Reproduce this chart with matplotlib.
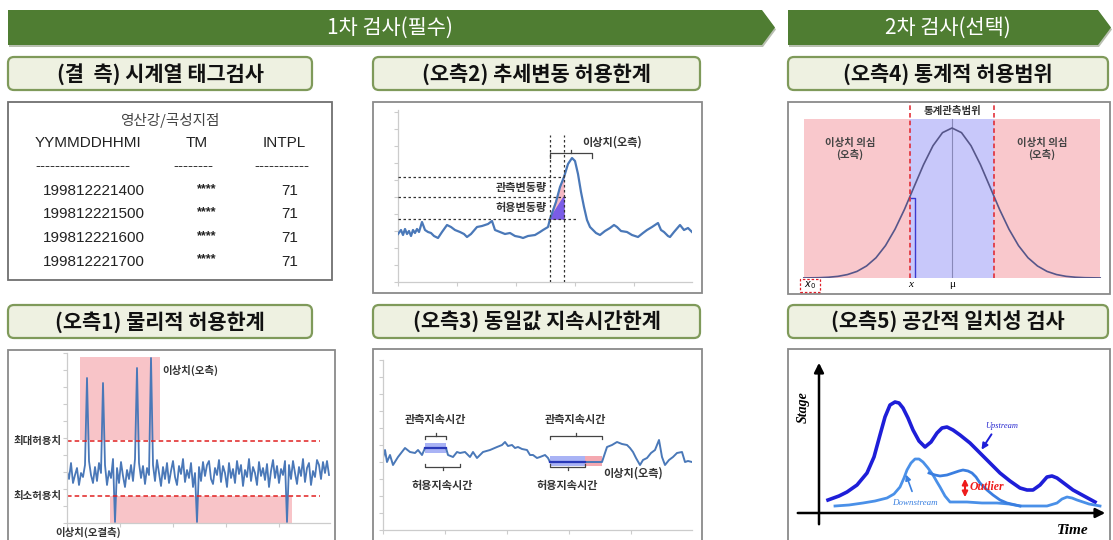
import matplotlib.pyplot as plt
import numpy as np
from matplotlib.patches import Polygon, FancyBboxPatch, Rectangle

KR = ['Noto Sans CJK KR', 'DejaVu Sans']
SERIF = ['Liberation Serif', 'DejaVu Serif']
plt.rcParams['font.family'] = KR

W, H = 1113, 540

# ---------------- data ----------------
banner_labels = ['1차 검사(필수)', '2차 검사(선택)']
box_titles = ['(결  측) 시계열 태그검사', '(오측2) 추세변동 허용한계', '(오측4) 통계적 허용범위',
              '(오측1) 물리적 허용한계', '(오측3) 동일값 지속시간한계', '(오측5) 공간적 일치성 검사']

table_station = '영산강/곡성지점'
table_cols = ['YYMMDDHHMI', 'TM', 'INTPL']
table_times = ['199812221400', '199812221500', '199812221600', '199812221700']
table_tm = ['****', '****', '****', '****']
table_intpl = [71, 71, 71, 71]

# (오측2) trend series
trend_t = [0, 3, 5, 7, 9, 11, 13, 15, 17, 19, 21, 24, 27, 30, 33, 36, 40, 44, 49, 53,
           57, 62, 66, 69, 73, 79, 84, 90, 94, 97, 102, 107, 112, 117, 122, 125, 130, 137, 142, 145,
           150, 152, 158, 162, 166, 170, 174, 177, 180, 183, 186, 189, 192, 195, 198, 202, 207, 212, 216, 219,
           223, 229, 234, 240, 245, 249, 254, 260, 263, 266, 270, 272, 276, 282, 286, 290, 294]
trend_v = [48, 52, 47, 53, 48, 51, 46, 52, 49, 53, 50, 60, 52, 50, 49, 46, 44, 50, 57, 55,
           52, 50, 48, 45, 48, 55, 56, 58, 61, 52, 50, 48, 49, 46, 45, 44, 46, 47, 50, 52,
           55, 63, 80, 95, 105, 118, 124, 121, 108, 90, 75, 62, 55, 52, 49, 47, 51, 54, 57, 55,
           51, 50, 47, 45, 49, 52, 55, 59, 52, 50, 46, 45, 50, 57, 52, 54, 50]
trend_window = [152, 166]
trend_levels = [63, 85, 105]   # start, allowed change, observed change

# (오측1) physical limit series
phys_v = [52, 44, 60, 40, 48, 55, 38, 50, 46, 58,
          145, 62, 48, 40, 56, 42, 60, 50,
          140, 58, 38, 52, 45, 64,
          1, 55, 40, 61, 47, 36, 53, 44, 58, 42, 64,
          155, 60, 45, 57, 39, 55, 48,
          165, 58, 42, 63, 50, 37, 56, 44, 60, 40, 52, 62, 46, 38, 57, 49, 64, 41, 53, 45, 60, 36, 50,
          1, 56, 42, 61, 47, 58, 62, 44, 39, 55, 48, 63, 41, 57, 50, 36, 60, 45, 54, 40, 62,
          49, 58, 37, 53, 46, 64, 42, 56, 50, 38, 61, 47, 55, 43, 59, 36, 52, 63, 45, 57, 40, 54, 48, 62,
          1, 58, 44, 62, 50, 39, 56, 47, 64, 41, 55, 60, 38, 52, 46, 63, 58, 44, 61, 50, 62, 48]
phys_max, phys_min = 82, 27

# (오측3) persistence series
pers_t = [0, 2, 4, 7, 10, 15, 22, 27, 32, 35, 39, 42, 63, 65, 70, 74, 77, 82, 87, 90,
          94, 100, 107, 114, 119, 122, 125, 129, 132, 135, 139, 144, 147, 150, 154, 157, 162, 165, 167, 202,
          219, 224, 229, 234, 239, 244, 247, 250, 253, 257, 260, 264, 268, 272, 276, 279, 282, 286, 290, 294,
          299, 302, 305, 309]
pers_v = [72, 80, 68, 75, 65, 73, 82, 78, 77, 80, 75, 82, 82, 75, 73, 78, 77, 78, 73, 78,
          72, 78, 80, 83, 85, 88, 84, 85, 82, 83, 81, 80, 75, 75, 72, 73, 75, 72, 68, 68,
          68, 83, 85, 88, 86, 85, 82, 78, 72, 65, 70, 72, 77, 80, 90, 73, 65, 70, 73, 77,
          78, 68, 69, 68]
pers_obs = [(42, 63), (167, 219)]     # observed duration
pers_allow = [(42, 77), (167, 202)]   # allowed duration

# (오측4) normal curve (in sigma units)
norm_z = [0, 0.25, 0.5, 0.75, 1.0, 1.25, 1.5, 1.75, 2.0, 2.25, 2.5, 2.75, 3.0, 3.25, 3.5, 3.75, 3.9]
norm_h = [1.0, 0.969, 0.882, 0.755, 0.607, 0.458, 0.325, 0.216, 0.135, 0.080, 0.044, 0.023, 0.011,
          0.005, 0.002, 0.001, 0.0005]
norm_limit = 1.1

# (오측5) upstream / downstream
up_t = [9, 20, 28, 38, 48, 55, 61, 66, 71, 76, 80, 84, 89, 94, 100, 106, 112, 118, 123, 128,
        134, 141, 151, 161, 171, 181, 191, 201, 208, 214, 221, 228, 233, 238, 246, 254, 265, 276]
up_v = [13, 17, 21, 28, 40, 56, 78, 96, 108, 111, 110, 105, 95, 83, 72, 66, 71, 80, 85, 86,
        83, 78, 70, 60, 50, 40, 32, 25, 23, 23, 28, 36, 37, 35, 29, 23, 17, 11]
down_t = [16, 30, 44, 56, 68, 75, 81, 85, 88, 92, 96, 100, 104, 109, 114, 118, 121, 126, 131, 140,
          148, 163, 178, 190, 201, 215, 228, 238, 243, 248, 253, 258, 270, 281]
down_v = [7, 8, 10, 12, 15, 19, 26, 35, 43, 50, 54, 54, 51, 45, 38, 31, 26, 17, 11, 11,
          11, 10, 10, 9, 7, 7, 7, 10, 14, 16, 15, 13, 9, 7]
branch_t = [110, 116, 121, 128, 134, 140, 144, 149, 153, 157, 161, 168, 174, 181, 188, 201]
branch_v = [40, 38, 37, 38, 40, 42, 43, 42, 40, 36, 30, 23, 18, 13, 10, 7]
outlier_t, outlier_lo, outlier_hi = 146, 13, 37

# ---------------- figure ----------------
fig = plt.figure(figsize=(W / 100, H / 100), dpi=100)
base = fig.add_axes([0, 0, 1, 1])
base.set_xlim(0, W)
base.set_ylim(H, 0)
base.axis('off')

GREEN = '#4f7d32'
for (x0, x1), lab in zip([(8, 762), (788, 1098)], banner_labels):
    shadow = Polygon([(x0 + 1, 12), (x1 + 1, 12), (x1 + 14, 29.5), (x1 + 1, 47), (x0 + 1, 47)],
                     closed=True, fc='#b8bfb0', ec='none')
    base.add_patch(shadow)
    base.add_patch(Polygon([(x0, 10), (x1, 10), (x1 + 13, 27.5), (x1, 45), (x0, 45)],
                           closed=True, fc=GREEN, ec='none'))
    base.text((x0 + x1) / 2 + 5, 28, lab, color='white', fontsize=15, style='italic',
              ha='center', va='center')

box_x = [(8, 312), (373, 700), (788, 1108)]
for i, title in enumerate(box_titles):
    x0, x1 = box_x[i % 3]
    y0 = 57 if i < 3 else 305
    base.add_patch(FancyBboxPatch((x0, y0), x1 - x0, 33, boxstyle='round,pad=0,rounding_size=6',
                                  fc='#eef1e1', ec='#7f9a5a', lw=1.6))
    base.text((x0 + x1) / 2, y0 + 17, title, fontsize=15, fontweight='bold',
              ha='center', va='center', color='#111111')

# panel frames
for x0, y0, x1, y1, ec in [(8, 102, 332, 280, '#707070'), (373, 102, 702, 293, '#8a8a8a'),
                           (788, 102, 1110, 294, '#8a8a8a'), (8, 350, 335, 548, '#8a8a8a'),
                           (373, 349, 702, 548, '#8a8a8a'), (788, 349, 1110, 548, '#8a8a8a')]:
    base.add_patch(Rectangle((x0, y0), x1 - x0, y1 - y0, fc='white', ec=ec, lw=1.3))

# ---- table panel ----
SANS = ['Liberation Sans', 'DejaVu Sans']
base.text(170, 120, table_station, fontsize=10.5, color='#444444', ha='center', va='center')
for x, lab in zip([35, 197, 284], table_cols):
    base.text(x, 143, lab, fontsize=11, family=SANS, color='#222222',
              ha='left' if x == 35 else 'center', va='center')
for x, dash, ha in [(35, '-' * 19, 'left'), (193, '-' * 8, 'center'), (282, '-' * 11, 'center')]:
    base.text(x, 166, dash, fontsize=11, family=SANS, color='#333333', ha=ha, va='center')
for k, (tm, tv, iv) in enumerate(zip(table_times, table_tm, table_intpl)):
    y = 191 + k * 23.5
    base.text(43, y, tm, fontsize=11, family=SANS, color='#222222', ha='left', va='center')
    base.text(207, y - 2, tv, fontsize=9, family=SANS, fontweight='bold', color='#222222',
              ha='center', va='center')
    base.text(290, y, str(iv), fontsize=11, family=SANS, color='#222222', ha='center', va='center')


def panel_axes(x0, y0, x1, y1):
    a = fig.add_axes([x0 / W, 1 - y1 / H, (x1 - x0) / W, (y1 - y0) / H])
    a.patch.set_alpha(0)
    return a


def gray_axes(a, xticks, yticks):
    for s in ['top', 'right']:
        a.spines[s].set_visible(False)
    for s in ['left', 'bottom']:
        a.spines[s].set_color('#cccccc')
        a.spines[s].set_linewidth(0.9)
    a.set_xticks(xticks)
    a.set_yticks(yticks)
    a.tick_params(length=3, color='#cccccc', labelbottom=False, labelleft=False)


LINE = '#4a78b8'

# ---- (오측2) trend ----
ax2 = panel_axes(398, 110, 692, 282)
ax2.set_xlim(0, 294)
ax2.set_ylim(0, 172)
gray_axes(ax2, np.arange(0, 295, 59), np.arange(0, 173, 17))
ta, tb = trend_window
lo, mid, hi = trend_levels
ax2.fill([ta, tb, tb], [lo, hi, lo], color='#f5b8c4', zorder=1)
ax2.fill([ta, tb, tb], [lo, mid, lo], color='#7a5ce6', zorder=2)
ax2.plot(trend_t, trend_v, color=LINE, lw=1.6, zorder=3)
dash_kw = dict(color='#333333', lw=0.9, ls=(0, (2, 2)), zorder=4)
ax2.plot([0, tb], [hi, hi], **dash_kw)
ax2.plot([0, tb + 4], [mid, mid], **dash_kw)
ax2.plot([0, tb + 14], [lo, lo], **dash_kw)
ax2.plot([ta, ta], [0, 147], **dash_kw)
ax2.plot([tb, tb], [0, 147], **dash_kw)
ax2.plot([ta, ta, 194, 194], [124, 129, 129, 124], color='#444444', lw=0.9)
ax2.plot([173, 173], [129, 132], color='#444444', lw=0.9)
ax2.text(214, 140, '이상치(오측)', fontsize=8, fontweight='bold', color='#333333', ha='center', va='center')
ax2.text(149, 95, '관측변동량', fontsize=8, fontweight='bold', color='#333333', ha='right', va='center')
ax2.text(149, 74, '허용변동량', fontsize=8, fontweight='bold', color='#333333', ha='right', va='center')

# ---- (오측4) normal ----
ax3 = panel_axes(800, 102, 1104, 278)
ax3.set_xlim(-4, 4)
ax3.set_ylim(0, 176 / 150)
ax3.axis('off')
ax3.add_patch(Rectangle((-3.9, 0), 7.8, 1.06, fc='#f9c8cc', ec='none'))
ax3.add_patch(Rectangle((-norm_limit, 0), 2 * norm_limit, 1.06, fc='#c8c8fa', ec='none'))
nz = [-z for z in norm_z[::-1]] + norm_z[1:]
nh = norm_h[::-1] + norm_h[1:]
ax3.plot([0, 0], [0, 1.06], color='#8888b8', lw=0.8)
ax3.plot(nz, nh, color='#56568a', lw=1.2)
for xl in [-norm_limit, norm_limit]:
    ax3.plot([xl, xl], [0, 176 / 150], color='#e0202a', lw=1.1, ls=(0, (3, 2)))
ax3.plot([-1.08, -0.97, -0.97], [0.535, 0.535, 0], color='#3a3ad0', lw=1)
ax3.text(0, 1.115, '통계관측범위', fontsize=7.5, fontweight='bold', color='#333333', ha='center', va='center')
for xc in [-2.68, 2.37]:
    ax3.text(xc, 0.86, '이상치 의심\n(오측)', fontsize=7.5, fontweight='bold', color='#444444',
             ha='center', va='center', linespacing=1.1)
ax3.text(-norm_limit, -0.045, 'x', fontsize=8, family=SERIF, style='italic', ha='center', va='center', clip_on=False)
ax3.text(0, -0.045, 'μ', fontsize=8, family=SERIF, ha='center', va='center', clip_on=False)
ax3.text(-3.74, -0.05, '$x_0$', fontsize=7, ha='center', va='center', clip_on=False)
ax3.add_patch(Rectangle((-4.0, -0.095), 0.52, 0.09, fc='none', ec='#e0202a', lw=0.9,
                        ls=(0, (2, 1.5)), clip_on=False))

# ---- (오측1) physical ----
ax4 = panel_axes(67, 353, 330, 523)
ax4.set_xlim(0, 263)
ax4.set_ylim(0, 170)
gray_axes(ax4, np.arange(0, 263, 53), np.arange(0, 171, 17))
ax4.add_patch(Rectangle((13, 83), 80, 83, fc='#f8c4c8', ec='none'))
ax4.add_patch(Rectangle((43, 0), 182, phys_min, fc='#f8c4c8', ec='none'))
ax4.plot(np.arange(len(phys_v)) * 2, phys_v, color=LINE, lw=1.3)
ax4.plot([0, 253], [phys_max, phys_max], color='#e02020', lw=1.1, ls=(0, (3, 2)))
ax4.plot([0, 253], [phys_min, phys_min], color='#e02020', lw=1.1, ls=(0, (3, 2)))
ax4.text(-5, phys_max, '최대허용치', fontsize=7.5, fontweight='bold', color='#333333',
         ha='right', va='center', clip_on=False)
ax4.text(-5, phys_min, '최소허용치', fontsize=7.5, fontweight='bold', color='#333333',
         ha='right', va='center', clip_on=False)
ax4.text(95, 153, '이상치(오측)', fontsize=7.5, fontweight='bold', color='#333333', ha='left', va='center')
ax4.text(21, -9, '이상치(오결측)', fontsize=7.5, fontweight='bold', color='#333333',
         ha='center', va='center', clip_on=False)

# ---- (오측3) persistence ----
ax5 = panel_axes(383, 360, 692, 530)
ax5.set_xlim(0, 309)
ax5.set_ylim(0, 170)
gray_axes(ax5, np.arange(0, 310, 62), np.arange(0, 171, 17))
ax5.add_patch(Rectangle((42, 77), 21, 10, fc='#a9b3f5', ec='none'))
ax5.add_patch(Rectangle((167, 64), 35, 10, fc='#a9b3f5', ec='none'))
ax5.add_patch(Rectangle((202, 64), 17, 10, fc='#f4a8b0', ec='none'))
ax5.plot(pers_t, pers_v, color=LINE, lw=1.4)
ax5.plot([42, 63], [82, 82], color='#2838b8', lw=1.6)
ax5.plot([167, 202], [68, 68], color='#2838b8', lw=1.6)
for (a, b) in pers_obs:
    ax5.plot([a, a, b, b], [91, 94, 94, 91], color='#444444', lw=0.9)
    ax5.plot([(a + b) / 2] * 2, [94, 97], color='#444444', lw=0.9)
    ax5.text((a + b) / 2, 110, '관측지속시간', fontsize=8, fontweight='bold', color='#333333',
             ha='center', va='center')
for (a, b) in pers_allow:
    ax5.plot([a, a, b, b], [66, 63, 63, 66], color='#444444', lw=0.9)
    ax5.plot([(a + b) / 2] * 2, [63, 60], color='#444444', lw=0.9)
    ax5.text((a + b) / 2, 45, '허용지속시간', fontsize=8, fontweight='bold', color='#333333',
             ha='center', va='center')
ax5.text(220, 57, '이상치(오측)', fontsize=8, fontweight='bold', color='#333333', ha='left', va='center')

# ---- (오측5) spatial ----
ax6 = panel_axes(795, 360, 1108, 527)
ax6.set_xlim(-24, 289)
ax6.set_ylim(-14, 153)
ax6.axis('off')
ax6.annotate('', xy=(0, 153), xytext=(0, -14),
             arrowprops=dict(arrowstyle='-|>', lw=1.8, color='black', mutation_scale=14))
ax6.annotate('', xy=(289, 0), xytext=(-24, 0),
             arrowprops=dict(arrowstyle='-|>', lw=1.8, color='black', mutation_scale=14))
ax6.plot(up_t, up_v, color='#1e1ed8', lw=2.6)
ax6.plot(down_t, down_v, color='#4a90e8', lw=2)
ax6.plot(branch_t, branch_v, color='#3a7ee0', lw=2)
ax6.annotate('', xy=(outlier_t, outlier_hi), xytext=(outlier_t, outlier_lo),
             arrowprops=dict(arrowstyle='<|-|>', lw=1.5, color='#ee1c1c', mutation_scale=8))
ax6.text(outlier_t + 5, 26, 'Outlier', fontsize=8.5, family=SERIF, style='italic', fontweight='bold',
         color='#ee1c1c', ha='left', va='center')
ax6.text(183, 87, 'Upstream', fontsize=6, family=SERIF, style='italic', color='#2a2ad0',
         ha='center', va='center')
ax6.annotate('', xy=(161, 61), xytext=(174, 81),
             arrowprops=dict(arrowstyle='-|>', lw=1.4, color='#1e1ed8', mutation_scale=9))
ax6.text(96, 10, 'Downstream', fontsize=6.5, family=SERIF, style='italic', color='#3a80e0',
         ha='center', va='center')
ax6.annotate('', xy=(86, 41), xytext=(94, 19),
             arrowprops=dict(arrowstyle='-|>', lw=1.2, color='#3a80e0', mutation_scale=8))
ax6.text(-16, 106, 'Stage', fontsize=10, family=SERIF, style='italic', fontweight='bold',
         rotation=90, ha='center', va='center', clip_on=False)
ax6.text(254, -17, 'Time', fontsize=11, family=SERIF, style='italic', fontweight='bold',
         ha='center', va='center', clip_on=False)

fig.savefig('out.png', dpi=100, facecolor='white')
